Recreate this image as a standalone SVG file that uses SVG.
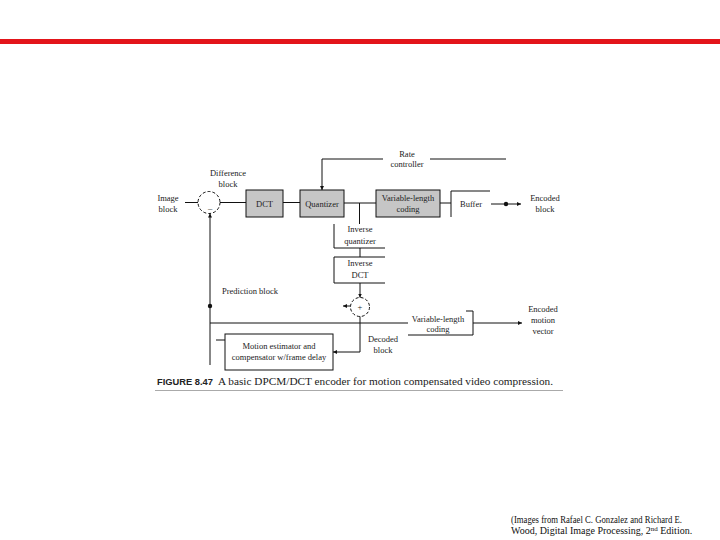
<svg xmlns="http://www.w3.org/2000/svg" width="720" height="540" viewBox="0 0 720 540">
<defs>
<style>
.t{font-family:"Liberation Serif","Times New Roman",serif;font-size:8.5px;fill:#222;text-anchor:middle}
.l{fill:none;stroke:#111;stroke-width:1}
.box{fill:#c6c6c6;stroke:#111;stroke-width:1}
.dc{fill:none;stroke:#111;stroke-width:1;stroke-dasharray:3 2}
.cap{font-family:"Liberation Serif","Times New Roman",serif;font-size:11px;fill:#222}
.capb{font-family:"Liberation Sans",Arial,sans-serif;font-size:9.5px;font-weight:bold;fill:#222}
.foot{font-family:"Liberation Serif","Times New Roman",serif;font-size:10px;fill:#111}
</style>
<marker id="ah" viewBox="0 0 8 8" refX="8" refY="4" markerWidth="4" markerHeight="4" orient="auto">
<path d="M0,0 L8,4 L0,8 z" fill="#111"/>
</marker>
</defs>
<rect width="720" height="540" fill="#fff"/>
<rect x="0" y="39" width="720" height="5" fill="#e3151a"/>

<g id="connectors">
<line class="l" x1="185" y1="202.5" x2="198" y2="202.5"/>
<line class="l" x1="220" y1="202.5" x2="246" y2="202.5"/>
<line class="l" x1="283" y1="202.5" x2="300" y2="202.5"/>
<line class="l" x1="344" y1="203" x2="376" y2="203"/>
<line class="l" x1="359.5" y1="203" x2="359.5" y2="224"/>
<line class="l" x1="440" y1="203" x2="451" y2="203"/>
<line class="l" x1="491" y1="204" x2="521" y2="204" marker-end="url(#ah)"/>
<circle cx="506" cy="204" r="2.2" fill="#111"/>
<polyline class="l" points="383,159 322,159 322,190" marker-end="url(#ah)"/>
<line class="l" x1="430" y1="159" x2="506" y2="159"/>
<line class="l" x1="360" y1="248" x2="360" y2="257"/>
<line class="l" x1="360" y1="283" x2="360" y2="297.5" marker-end="url(#ah)"/>
<line class="l" x1="350.5" y1="306" x2="343" y2="306" marker-end="url(#ah)"/>
<line class="l" x1="210" y1="365" x2="210" y2="213.5" marker-end="url(#ah)"/>
<circle cx="210" cy="306" r="2.2" fill="#111"/>
<line class="l" x1="210" y1="323" x2="408" y2="323"/>
<line class="l" x1="473" y1="323" x2="522" y2="323" marker-end="url(#ah)"/>
<polyline class="l" points="360,316.5 360,352 333,352" marker-end="url(#ah)"/>
<line class="l" x1="216" y1="340" x2="225" y2="340"/>
</g>

<g id="image-block"><text class="t" x="168" y="201">Image</text><text class="t" x="168" y="212">block</text></g>
<g id="difference-block">
<circle class="dc" cx="209" cy="202.5" r="11"/>
<text class="t" x="210" y="211">–</text>
<text class="t" x="228" y="176">Difference</text><text class="t" x="228" y="187">block</text>
</g>
<g id="dct"><rect class="box" x="246" y="190" width="37" height="27"/><text class="t" x="264.5" y="206.5">DCT</text></g>
<g id="quantizer"><rect class="box" x="300" y="190" width="44" height="27"/><text class="t" x="322" y="206.5">Quantizer</text></g>
<g id="vlc"><rect class="box" x="376" y="190" width="64" height="27"/><text class="t" x="408" y="201">Variable-length</text><text class="t" x="408" y="212">coding</text></g>
<g id="buffer"><path class="l" d="M451,217 V191 H490"/><text class="t" x="471" y="207">Buffer</text></g>
<g id="encoded-block"><text class="t" x="545" y="201">Encoded</text><text class="t" x="545" y="212">block</text></g>
<g id="rate-controller"><text class="t" x="407" y="157">Rate</text><text class="t" x="407" y="167">controller</text></g>
<g id="inverse-quantizer"><path class="l" d="M334,224 V248 H385"/><text class="t" x="360" y="232">Inverse</text><text class="t" x="360" y="243.5">quantizer</text></g>
<g id="inverse-dct"><path class="l" d="M385,257 H334 V283 H385"/><text class="t" x="360" y="266">Inverse</text><text class="t" x="360" y="278">DCT</text></g>
<g id="adder"><circle class="dc" cx="360" cy="307" r="9.5"/><text class="t" x="360" y="310">+</text></g>
<g id="prediction-label"><text class="t" x="222" y="294" style="text-anchor:start">Prediction block</text></g>
<g id="vlc-motion"><path class="l" d="M466,311 H473 V335 H408"/><text class="t" x="438" y="321.5">Variable-length</text><text class="t" x="438" y="332">coding</text></g>
<g id="encoded-motion-vector"><text class="t" x="543" y="312">Encoded</text><text class="t" x="543" y="323">motion</text><text class="t" x="543" y="334">vector</text></g>
<g id="decoded-label"><text class="t" x="383" y="342">Decoded</text><text class="t" x="383" y="353">block</text></g>
<g id="motion-estimator"><rect x="225" y="334" width="108" height="36" fill="#fff" stroke="#111"/><text class="t" x="279" y="349">Motion estimator and</text><text class="t" x="279" y="360">compensator w/frame delay</text></g>

<g id="caption">
<text class="capb" x="157" y="385" textLength="56" lengthAdjust="spacingAndGlyphs">FIGURE 8.47</text>
<text class="cap" x="218" y="385" textLength="335" lengthAdjust="spacingAndGlyphs">A basic DPCM/DCT encoder for motion compensated video compression.</text>
<line x1="155" y1="390.5" x2="563" y2="390.5" stroke="#aaa" stroke-width="1"/>
</g>
<g id="footer">
<text class="foot" x="511" y="523" textLength="171" lengthAdjust="spacingAndGlyphs">(Images from Rafael C. Gonzalez and Richard E.</text>
<text class="foot" x="511" y="534">Wood, Digital Image Processing, 2<tspan font-size="7" dy="-3">nd</tspan><tspan dy="3"> Edition.</tspan></text>
</g>
</svg>
